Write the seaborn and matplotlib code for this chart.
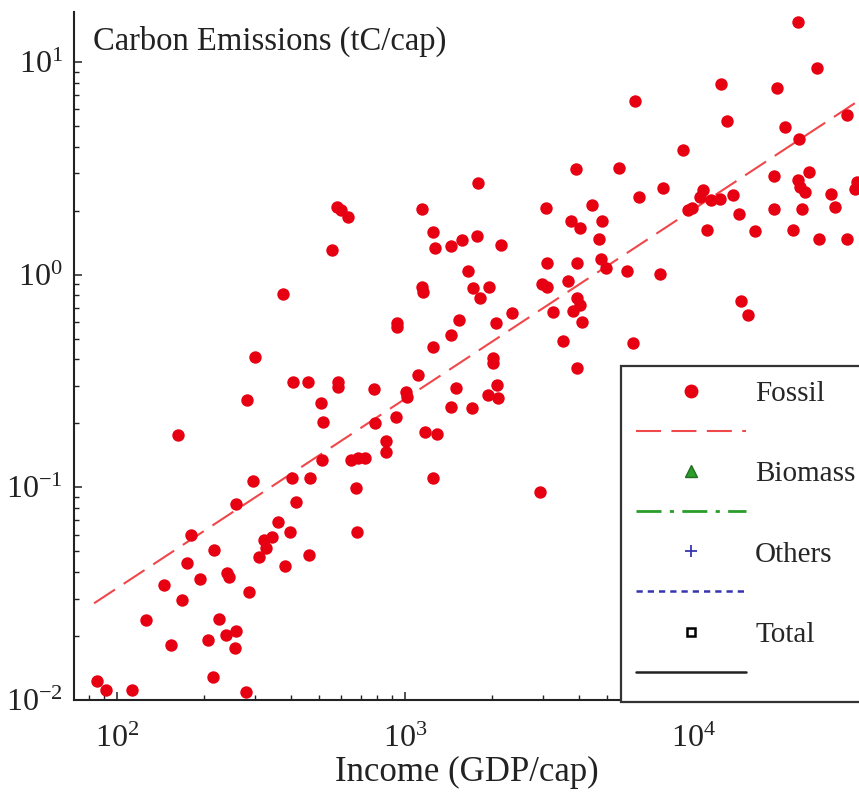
import numpy as np
import pandas as pd
import seaborn as sns
import matplotlib.pyplot as plt
from matplotlib.lines import Line2D

# income (GDP/cap) and fossil carbon emissions (tC/cap)
income = [84.7, 91, 112, 215, 280, 154, 206, 226, 239, 259, 256,
          126, 167, 145, 193, 175, 241, 245, 286,
          180, 216, 258, 295,
          310, 327, 323, 345, 361, 399, 381, 462,
          418, 404, 466, 514,
          163, 300, 281, 408, 460, 509, 518,
          584, 584, 779, 783, 932, 932, 1249, 1108,
          1004, 1014, 931, 860, 860, 1169, 1290, 1249,
          1440, 1440, 650, 686, 723, 673, 677,
          577, 600, 633, 555, 1138, 1249, 1266, 376,
          1140, 1150, 1440, 1570, 1775, 2141,
          1538, 1494, 1699,
          1791, 3926, 5507, 6483, 7822, 3077, 4431,
          3747, 4055, 4818, 4709, 4797, 4955, 5863, 7656,
          9600, 9860,
          3104, 3949, 2972, 3104, 3673,
          3950, 4036, 3824, 4091, 3245, 3533, 3949, 6180,
          2355, 2061, 2018, 2018, 2074, 1940, 2100,
          1652, 1720, 1815, 1954,
          2931,
          23100, 26980, 12430, 19590, 6270, 13090, 20780, 34040, 23230, 9220,
          10810, 10530, 11560, 12360, 13680,
          11170, 14420, 16350, 19030, 19030, 22210,
          23100, 23440, 24380, 25230, 23870, 27280, 34040,
          29950, 31000, 36870, 36380,
          14690, 15490]
fossil = [0.0123, 0.0111, 0.0111, 0.0128, 0.0109, 0.0181, 0.0191, 0.0240, 0.0202, 0.0212, 0.0175,
          0.0238, 0.0294, 0.0348, 0.0369, 0.0440, 0.0394, 0.0380, 0.0321,
          0.0597, 0.0507, 0.0835, 0.107,
          0.0472, 0.0516, 0.0565, 0.0586, 0.0689, 0.0618, 0.0428, 0.0481,
          0.0853, 0.111, 0.111, 0.134,
          0.176, 0.411, 0.257, 0.312, 0.312, 0.248, 0.202,
          0.314, 0.297, 0.289, 0.200, 0.590, 0.569, 0.458, 0.337,
          0.281, 0.266, 0.215, 0.165, 0.146, 0.182, 0.179, 0.111,
          0.520, 0.238, 0.134, 0.137, 0.137, 0.0996, 0.0618,
          2.08, 2.01, 1.87, 1.31, 2.03, 1.58, 1.33, 0.811,
          0.877, 0.831, 1.36, 1.45, 1.52, 1.38,
          0.612, 0.292, 0.235,
          2.69, 3.13, 3.16, 2.31, 2.56, 2.05, 2.12,
          1.79, 1.65, 1.79, 1.48, 1.18, 1.07, 1.04, 1.01,
          2.01, 2.05,
          1.14, 1.14, 0.903, 0.872, 0.936,
          0.774, 0.72, 0.677, 0.597, 0.669, 0.489, 0.366, 0.475,
          0.662, 0.59, 0.404, 0.383, 0.303, 0.272, 0.262,
          1.04, 0.862, 0.774, 0.872,
          0.0953,
          15.5, 9.33, 7.93, 7.56, 6.55, 5.29, 4.96, 5.63, 4.37, 3.85,
          2.50, 2.32, 2.24, 2.28, 2.37,
          1.63, 1.94, 1.61, 2.92, 2.03, 1.62,
          2.79, 2.59, 2.45, 3.05, 2.03, 1.47, 1.48,
          2.39, 2.09, 2.73, 2.52,
          0.754, 0.645]

# fitted fossil trend (end points)
trend_income = [83, 37600]
trend_fossil = [0.0285, 6.6]

legend_labels = ['Fossil', '', 'Biomass', '', 'Others', '', 'Total', '']

df = pd.DataFrame({'income': income, 'fossil': fossil})

sns.set_style('ticks')
plt.rcParams['font.family'] = ['Liberation Serif', 'DejaVu Serif']
plt.rcParams['mathtext.fontset'] = 'custom'
plt.rcParams['mathtext.rm'] = 'Liberation Serif'

fig = plt.figure(figsize=(8.59, 7.98), dpi=100)
ax = fig.add_axes([74 / 859, 98 / 798, 1 - 74 / 859, (700 - 12) / 798])

sns.scatterplot(data=df, x='income', y='fossil', ax=ax, color='#e60012',
                s=80, linewidth=0, zorder=3)
ax.plot(trend_income, trend_fossil, color='#f0474a', lw=1.5, dashes=(12, 5), zorder=2)

ax.set_xscale('log')
ax.set_yscale('log')
ax.set_xlim(70.7, 37600)
ax.set_ylim(0.01, 17.2)

ax.set_xlabel('Income (GDP/cap)', fontsize=25, color='#222222', labelpad=1)
ax.set_ylabel('')
ax.text(0.024, 0.98, 'Carbon Emissions (tC/cap)', transform=ax.transAxes,
        fontsize=23.5, color='#222222', ha='left', va='top')

ax.tick_params(which='both', direction='in', colors='#222222', labelsize=23)
ax.tick_params(which='major', length=6, width=1.1)
ax.tick_params(which='minor', length=3.5, width=1)
ax.tick_params(axis='x', pad=18)
ax.tick_params(axis='y', pad=8)
for side in ['left', 'bottom']:
    ax.spines[side].set_linewidth(1.5)
    ax.spines[side].set_color('#222222')
sns.despine(ax=ax)

handles = [
    Line2D([], [], ls='none', marker='o', ms=9, color='#e60012'),
    Line2D([], [], color='#f0474a', lw=1.5, dashes=(12, 5)),
    Line2D([], [], ls='none', marker='^', ms=8, color='#2a9d2a', mec='#1f6f1f'),
    Line2D([], [], color='#2a9d2a', lw=2, ls=(0, (9, 3, 1.5, 3))),
    Line2D([], [], ls='none', marker='+', ms=8, mew=1.3, color='#3535b0'),
    Line2D([], [], color='#3535b0', lw=1.8, ls=(0, (2.5, 2))),
    Line2D([], [], ls='none', marker='s', ms=6, mfc='white', mec='black', mew=1.8),
    Line2D([], [], color='#222222', lw=1.8),
]
leg = ax.legend(handles, legend_labels, loc='upper left',
                bbox_to_anchor=(621 / 859, 1 - 366 / 798), bbox_transform=fig.transFigure,
                borderaxespad=0, fontsize=21, handlelength=3.8, handletextpad=0.3,
                labelspacing=0.47, borderpad=0.5, fancybox=False, framealpha=1,
                edgecolor='#333333')
leg.get_frame().set_linewidth(1.6)

plt.savefig('out.png', dpi=100)
